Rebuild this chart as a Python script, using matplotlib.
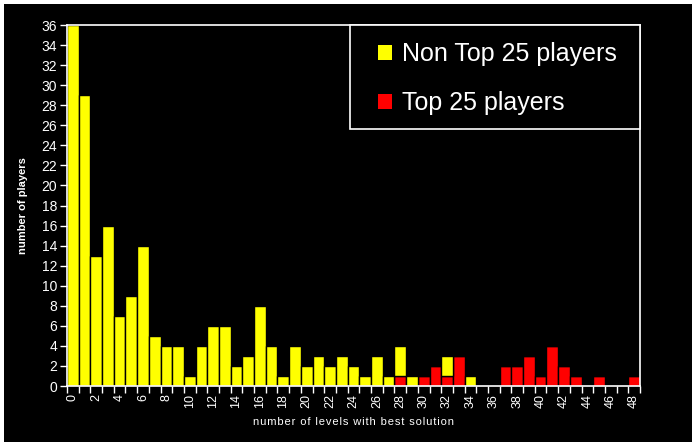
import matplotlib.pyplot as plt
from matplotlib.patches import Rectangle, Patch
import numpy as np

plt.rcParams['font.family'] = ['Liberation Sans', 'DejaVu Sans']

# number of levels with best solution (categories 0..48)
levels = list(range(49))
non_top25 = [36, 29, 13, 16, 7, 9, 14, 5, 4, 4,
             1, 4, 6, 6, 2, 3, 8, 4, 1, 4,
             2, 3, 2, 3, 2, 1, 3, 1, 3, 1,
             0, 0, 2, 0, 1, 0, 0, 0, 0, 0,
             0, 0, 0, 0, 0, 0, 0, 0, 0]
top25 = [0, 0, 0, 0, 0, 0, 0, 0, 0, 0,
         0, 0, 0, 0, 0, 0, 0, 0, 0, 0,
         0, 0, 0, 0, 0, 0, 0, 0, 1, 0,
         1, 2, 1, 3, 0, 0, 0, 2, 2, 3,
         1, 4, 2, 1, 0, 1, 0, 0, 1]

W, H = 698, 448
fig = plt.figure(figsize=(W / 100, H / 100), dpi=100)
fig.patch.set_facecolor('white')
# black panel with a thin white margin
panel = Rectangle((4 / W, 6 / H), 688 / W, 438 / H,
                  transform=fig.transFigure, facecolor='black',
                  edgecolor='none', zorder=-10)
fig.add_artist(panel)

ax = fig.add_axes([67 / W, 62 / H, 573 / W, 361 / H])
ax.set_zorder(5)
ax.set_facecolor('black')

x = np.array(levels)
ax.bar(x, top25, width=1.0, color='#ff0000', edgecolor='black', linewidth=1)
ax.bar(x, non_top25, width=1.0, bottom=top25, color='#ffff00',
       edgecolor='black', linewidth=1)

ax.set_xlim(-0.5, 48.5)
ax.set_ylim(0, 36)
ax.set_yticks(range(0, 37, 2))
ax.set_xticks(range(0, 49, 2))
ax.set_xticks(np.arange(-0.5, 49, 1), minor=True)
ax.tick_params(axis='x', which='major', length=0, pad=6, labelrotation=90,
               labelsize=9, colors='white')
ax.tick_params(axis='x', which='minor', length=5, width=1, color='white')
ax.tick_params(axis='y', length=5, width=1, labelsize=10, colors='white', pad=2)

for side in ['left', 'bottom', 'top', 'right']:
    ax.spines[side].set_color('white')
    ax.spines[side].set_linewidth(1.2)

# loosely spaced axis title, like the original export
xlabel = 'number of levels with best solution'
ax.set_xlabel('\u200a'.join(xlabel), color='white', fontsize=8, labelpad=6)
ax.set_ylabel('number of players', color='white', fontsize=8,
              fontweight='bold', labelpad=10)

# legend frame drawn separately so the padding can differ per direction
box = Rectangle((0.4939, 0.7119), 0.5061, 0.2881, transform=ax.transAxes,
                facecolor='black', edgecolor='white', linewidth=1.2,
                clip_on=False, zorder=4)
ax.add_patch(box)

handles = [Patch(facecolor='#ffff00', edgecolor='none'),
           Patch(facecolor='#ff0000', edgecolor='none')]
leg = ax.legend(handles, ['Non Top 25 players', 'Top 25 players'],
                loc='upper left', bbox_to_anchor=(0.5428, 0.9527),
                borderaxespad=0, borderpad=0, frameon=False,
                fontsize=18, handlelength=0.56, handleheight=0.56,
                handletextpad=0.4, labelspacing=1.0)
for t in leg.get_texts():
    t.set_color('white')

fig.savefig('out.png', dpi=100, facecolor=fig.get_facecolor())
